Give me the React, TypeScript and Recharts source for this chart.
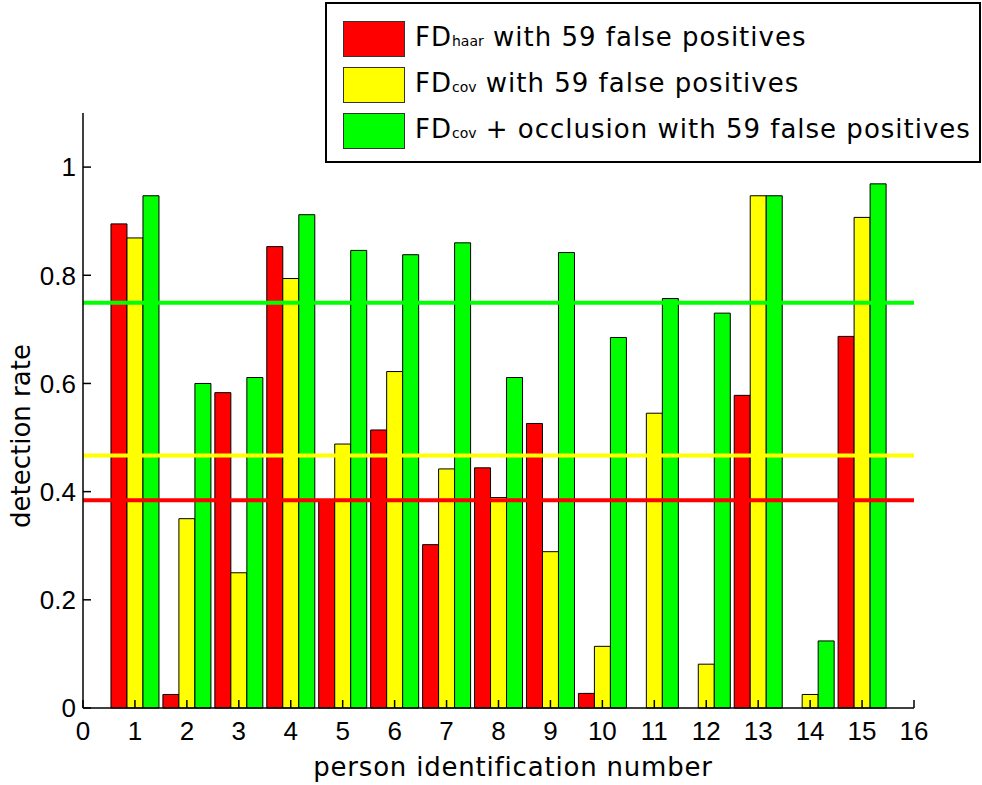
import React from 'react';
import { BarChart, Bar, XAxis, YAxis, ReferenceLine, Legend, Label } from 'recharts';

const persons = [1, 2, 3, 4, 5, 6, 7, 8, 9, 10, 11, 12, 13, 14, 15];
const fdHaar = [0.895, 0.025, 0.583, 0.853, 0.384, 0.514, 0.302, 0.444, 0.526, 0.027, 0, 0, 0.578, 0, 0.687];
const fdCov = [0.869, 0.35, 0.25, 0.794, 0.488, 0.622, 0.442, 0.389, 0.289, 0.114, 0.545, 0.081, 0.947, 0.025, 0.907];
const fdCovOcc = [0.947, 0.6, 0.611, 0.912, 0.846, 0.838, 0.86, 0.611, 0.842, 0.685, 0.757, 0.73, 0.947, 0.124, 0.969];
const meanHaar = 0.384;
const meanCov = 0.467;
const meanCovOcc = 0.749;
const xTicks = [0, 1, 2, 3, 4, 5, 6, 7, 8, 9, 10, 11, 12, 13, 14, 15, 16];
const yTicks = [0, 0.2, 0.4, 0.6, 0.8, 1];

const legendItems = [
  { main: 'FD', sub: 'haar', rest: ' with 59 false positives', color: '#ff0000' },
  { main: 'FD', sub: 'cov', rest: ' with 59 false positives', color: '#ffff00' },
  { main: 'FD', sub: 'cov', rest: ' + occlusion with 59 false positives', color: '#00ff00' },
];

const data = persons.map((p, i) => ({
  person: p,
  haar: fdHaar[i],
  cov: fdCov[i],
  covOcc: fdCovOcc[i],
}));

const titleFont = 'DejaVu Sans, Verdana, sans-serif';
const tickFont = 'Liberation Sans, Arial, Helvetica, sans-serif';

const LegendBox = () => (
  <div
    style={{
      position: 'relative',
      width: 656,
      height: 161,
      boxSizing: 'border-box',
      border: '2px solid #000',
      background: '#fff',
      fontFamily: titleFont,
      color: '#000',
    }}
  >
    {legendItems.map((it, i) => (
      <div key={i} style={{ position: 'absolute', left: 16, top: 17 + i * 46, height: 36, display: 'flex', alignItems: 'center' }}>
        <div style={{ width: 62, height: 36, boxSizing: 'border-box', border: '1px solid #333', background: it.color }} />
        <div style={{ marginLeft: 10, fontSize: 26, lineHeight: '38px', letterSpacing: 1, whiteSpace: 'nowrap' }}>
          {it.main}
          <span style={{ fontSize: 14, letterSpacing: 0 }}>{it.sub}</span>
          {it.rest}
        </div>
      </div>
    ))}
  </div>
);

export default function App() {
  return (
    <div style={{ position: 'absolute', left: 0, top: 0, width: 982, height: 785, background: '#fff' }}>
      <BarChart
        width={982}
        height={785}
        data={data}
        margin={{ top: 113, right: 68, bottom: 0, left: 0 }}
        barGap={0}
        barSize={16}
      >
        <XAxis
          type="number"
          dataKey="person"
          domain={[0, 16]}
          ticks={xTicks}
          interval={0}
          allowDecimals={false}
          height={77}
          axisLine={{ stroke: '#000', strokeWidth: 1.5 }}
          tickLine={{ stroke: '#000', strokeWidth: 1.5 }}
          tickSize={-8}
          tickMargin={22}
          tick={{ fill: '#000', fontSize: 26, fontFamily: tickFont }}
        >
          <Label
            content={() => (
              <text x={513} y={776} textAnchor="middle" fontFamily={titleFont} fontSize={26} letterSpacing={0.8} fill="#000">
                person identification number
              </text>
            )}
          />
        </XAxis>
        <YAxis
          type="number"
          domain={[0, 1.1]}
          ticks={yTicks}
          interval={0}
          width={83}
          axisLine={{ stroke: '#000', strokeWidth: 1.5 }}
          tickLine={{ stroke: '#000', strokeWidth: 1.5 }}
          tickSize={-8}
          tickMargin={15}
          tick={{ fill: '#000', fontSize: 26, fontFamily: tickFont }}
        >
          <Label
            content={() => (
              <text
                x={30}
                y={436}
                transform="rotate(-90 30 436)"
                textAnchor="middle"
                fontFamily={titleFont}
                fontSize={26}
                fill="#000"
              >
                detection rate
              </text>
            )}
          />
        </YAxis>
        <Legend
          layout="vertical"
          align="center"
          verticalAlign="middle"
          wrapperStyle={{ left: 325, top: 2, width: 656, height: 161 }}
          content={() => <LegendBox />}
        />
        <Bar dataKey="haar" fill="#ff0000" stroke="#000" strokeWidth={1} isAnimationActive={false} />
        <Bar dataKey="cov" fill="#ffff00" stroke="#000" strokeWidth={1} isAnimationActive={false} />
        <Bar dataKey="covOcc" fill="#00ff00" stroke="#000" strokeWidth={1} isAnimationActive={false} />
        <ReferenceLine y={meanHaar} stroke="#ff0000" strokeWidth={4} />
        <ReferenceLine y={meanCov} stroke="#ffff00" strokeWidth={4} />
        <ReferenceLine y={meanCovOcc} stroke="#00ff00" strokeWidth={4} />
      </BarChart>
    </div>
  );
}
